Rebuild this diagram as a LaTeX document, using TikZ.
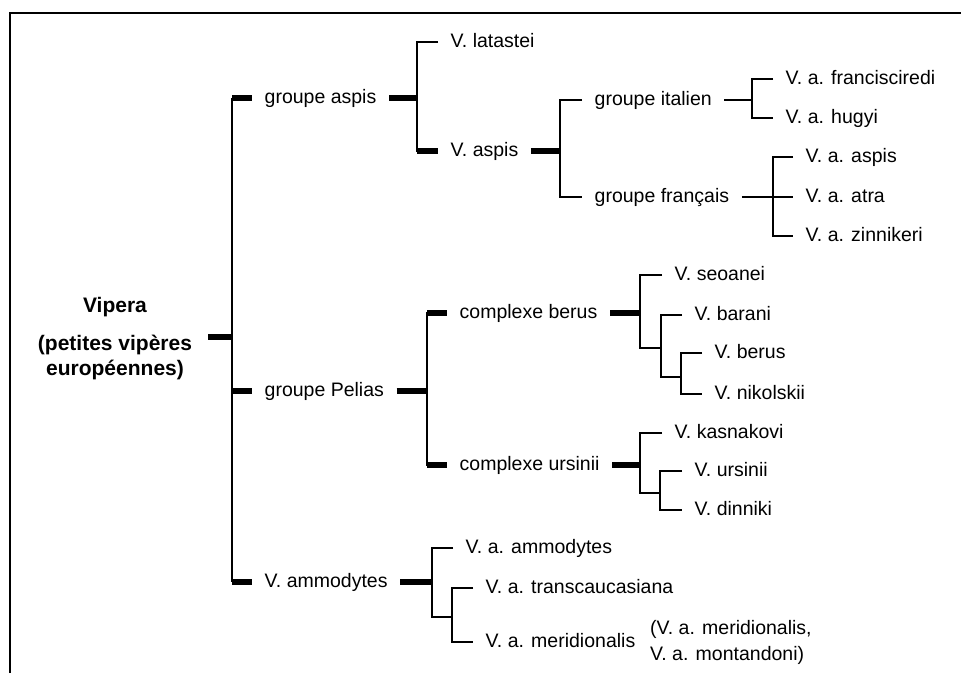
\documentclass[tikz,border=0pt]{standalone}
\usepackage{fontspec}
\setmainfont{Liberation Sans}
\usetikzlibrary{positioning}
\tikzset{
  lbl/.style={anchor=west, inner xsep=12.5pt, inner ysep=0pt,
    text height=14pt, text depth=4pt},
  rootlbl/.style={font=\fontsize{21}{25}\selectfont\bfseries,
    inner xsep=16pt, inner ysep=0pt},
  synlbl/.style={font=\fontsize{19.5}{26}\selectfont, align=left,
    inner xsep=2pt, inner ysep=0pt},
  stub/.style={line width=5.5pt},
  twig/.style={line width=1.6pt}
}
\newcommand{\taxon}[3]{\node[lbl] (#1) at (#2) {#3};}

\begin{document}
\begin{tikzpicture}[x=1pt,y=-1pt,font=\fontsize{19.5}{23}\selectfont]
  \useasboundingbox (0,0) rectangle (961,673);
  \draw[line width=2pt] (10,673) -- (10,13) -- (961,13);

  % root
  \node[rootlbl, anchor=base] (vipera) at (115,312) {Vipera};
  \node[rootlbl, align=center] (vipdesc) at (115,357) {(petites vipères\\européennes)};
  \coordinate (jroot) at (232,337);

  % groups
  \taxon{aspis}{252,98}{groupe aspis}
  \taxon{pelias}{252,391}{groupe Pelias}
  \taxon{ammo}{252,582}{V. ammodytes}

  % aspis
  \taxon{latastei}{438,42}{V. latastei}
  \taxon{vaspis}{438,151}{V. aspis}
  \taxon{italien}{582,100}{groupe italien}
  \taxon{francais}{582,197}{groupe français}
  \taxon{franc}{773,79}{V. a. francisciredi}
  \taxon{hugyi}{773,118}{V. a. hugyi}
  \taxon{aaspis}{793,157}{V. a. aspis}
  \taxon{atra}{793,197}{V. a. atra}
  \taxon{zinn}{793,236}{V. a. zinnikeri}

  % Pelias
  \taxon{cberus}{447,313}{complexe berus}
  \taxon{cursinii}{447,465}{complexe ursinii}
  \taxon{seoanei}{662,275}{V. seoanei}
  \taxon{barani}{682,315}{V. barani}
  \taxon{vberus}{702,353}{V. berus}
  \taxon{nikol}{702,394}{V. nikolskii}
  \taxon{kasnak}{662,433}{V. kasnakovi}
  \taxon{vursinii}{682,471}{V. ursinii}
  \taxon{dinniki}{682,510}{V. dinniki}

  % ammodytes
  \taxon{aammo}{453,548}{V. a. ammodytes}
  \taxon{transc}{473,588}{V. a. transcaucasiana}
  \taxon{merid}{473,642}{V. a. meridionalis}
  \node[synlbl, right=0pt of merid] (synon) {(V. a. meridionalis,\\V. a. montandoni)};

  % junctions
  \coordinate (ja) at (417,98);
  \coordinate (jv) at (560,151);
  \coordinate (ji) at (752,100);
  \coordinate (jf) at (773,197);
  \coordinate (jp) at (427,391);
  \coordinate (jb) at (640,313);
  \coordinate (kb1) at (661,348);
  \coordinate (kb2) at (681,377);
  \coordinate (ju) at (640,465);
  \coordinate (ku1) at (660,493);
  \coordinate (jm) at (432,582);
  \coordinate (km1) at (452,617);

  % root branches
  \draw[stub] (vipdesc.east |- jroot) -- (jroot);
  \draw[twig] (jroot |- aspis.west) -- (jroot |- ammo.west);
  \foreach \n in {aspis,pelias,ammo}
    \draw[stub] (jroot |- \n.west) -- (\n.west);

  % groupe aspis
  \draw[stub] (aspis.east) -- (ja);
  \draw[twig] (latastei.west) -| (ja) |- (vaspis.west);
  \draw[stub] (ja |- vaspis.west) -- (vaspis.west);
  \draw[stub] (vaspis.east) -- (jv);
  \draw[twig] (italien.west) -| (jv) |- (francais.west);
  \draw[twig] (italien.east) -- (ji);
  \draw[twig] (franc.west) -| (ji) |- (hugyi.west);
  \draw[twig] (francais.east) -- (atra.west);
  \draw[twig] (aaspis.west) -| (jf) |- (zinn.west);

  % groupe Pelias
  \draw[stub] (pelias.east) -- (jp);
  \draw[twig] (cberus.west) -| (jp) |- (cursinii.west);
  \draw[stub] (jp |- cberus.west) -- (cberus.west);
  \draw[stub] (jp |- cursinii.west) -- (cursinii.west);
  \draw[stub] (cberus.east) -- (jb);
  \draw[twig] (seoanei.west) -| (jb) |- (kb1);
  \draw[twig] (barani.west) -| (kb1) |- (kb2);
  \draw[twig] (vberus.west) -| (kb2) |- (nikol.west);
  \draw[stub] (cursinii.east) -- (ju);
  \draw[twig] (kasnak.west) -| (ju) |- (ku1);
  \draw[twig] (vursinii.west) -| (ku1) |- (dinniki.west);

  % V. ammodytes
  \draw[stub] (ammo.east) -- (jm);
  \draw[twig] (aammo.west) -| (jm) |- (km1);
  \draw[twig] (transc.west) -| (km1) |- (merid.west);
\end{tikzpicture}
\end{document}
